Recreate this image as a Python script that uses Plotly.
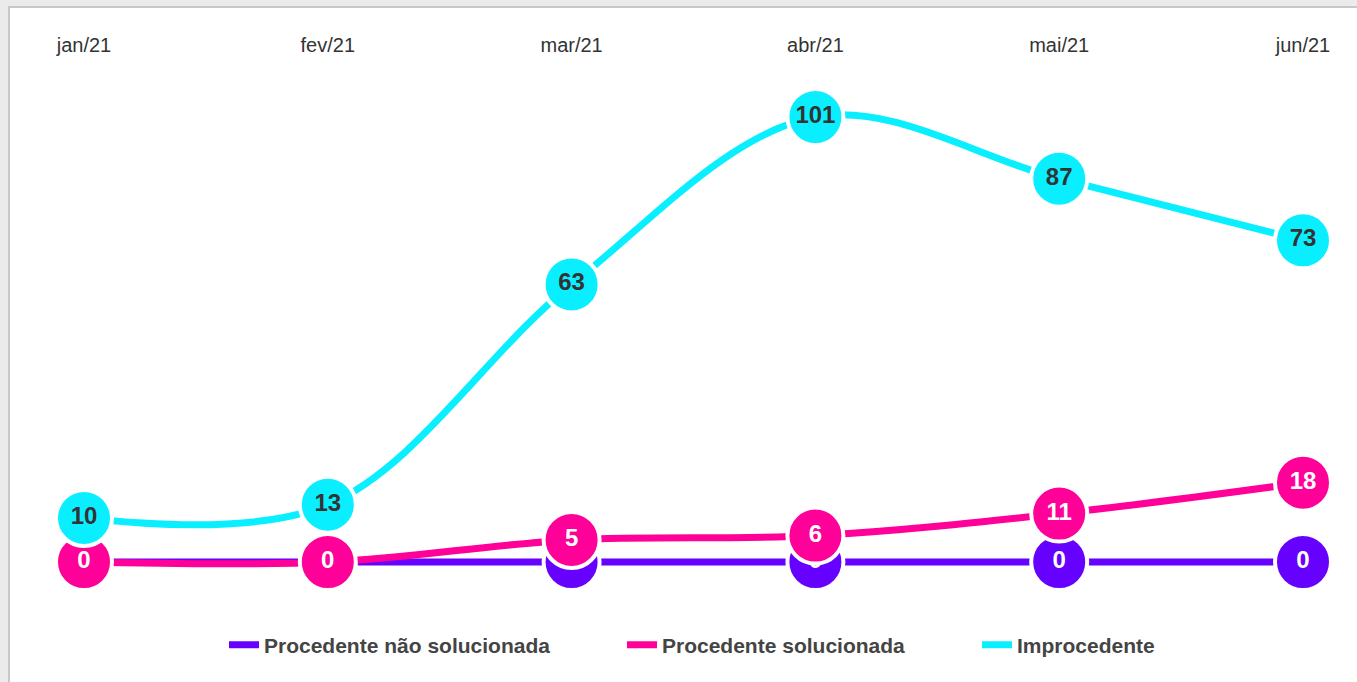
import plotly.graph_objects as go

months = ["jan/21", "fev/21", "mar/21", "abr/21", "mai/21", "jun/21"]
nao_solucionada = [0, 0, 0, 0, 0, 0]
solucionada = [0, 0, 5, 6, 11, 18]
improcedente = [10, 13, 63, 101, 87, 73]

series = [
    ("Procedente não solucionada", nao_solucionada, "#6600ff", "#ffffff"),
    ("Procedente solucionada", solucionada, "#ff0099", "#ffffff"),
    ("Improcedente", improcedente, "#0aefff", "#333333"),
]
legend_text_left = [264, 662, 1017]

W, H = 1357, 682
ml, mr, mt, mb = 60, 27, 60, 82
pw, ph = W - ml - mr, H - mt - mb

def px_x(p):
    return (p - ml) / pw

def px_y(p):
    return 1 - (p - mt) / ph

xs = list(range(len(months)))
fig = go.Figure()
for name, vals, color, tcolor in series:
    fig.add_trace(go.Scatter(
        x=xs, y=vals, mode="lines+markers+text", name=name,
        text=[str(v) for v in vals], textposition="middle center",
        textfont=dict(family="Liberation Sans, Arial", size=24, color=tcolor, weight="bold"),
        line=dict(color=color, width=7, shape="spline", smoothing=1),
        marker=dict(size=56, color=color, line=dict(color="white", width=4)),
        showlegend=False, cliponaxis=False, hoverinfo="skip",
    ))

legend_layouts = {}
for i, ((name, vals, color, tcolor), tl) in enumerate(zip(series, legend_text_left)):
    key = "legend" if i == 0 else f"legend{i + 1}"
    fig.add_trace(go.Scatter(
        x=[None], y=[None], mode="lines", name=name,
        line=dict(color=color, width=7), showlegend=True, legend=key,
    ))
    legend_layouts[key] = dict(
        orientation="h", x=px_x(tl - 40), xanchor="left", y=px_y(645), yanchor="middle",
        font=dict(size=21, color="#444444", weight="bold"),
        bgcolor="rgba(0,0,0,0)",
    )

fig.add_shape(type="rect", xref="paper", yref="paper",
              x0=px_x(9), x1=px_x(W + 20), y0=px_y(H + 20), y1=px_y(7),
              fillcolor="white", line=dict(color="#c8c8c8", width=2), layer="below")

x0 = 0 - (84 - ml) / 243.8
x1 = 5 + (ml + pw - 1303) / 243.8
ppu = 445 / 101
y0 = -(mt + ph - 562) / ppu
y1 = 101 + (117 - mt) / ppu

fig.update_layout(
    width=W, height=H,
    margin=dict(l=ml, r=mr, t=mt, b=mb),
    paper_bgcolor="#ebebeb", plot_bgcolor="rgba(0,0,0,0)",
    font=dict(family="Liberation Sans, Arial", color="#333333"),
    xaxis=dict(side="top", tickmode="array", tickvals=xs, ticktext=months,
               range=[x0, x1], showgrid=False, zeroline=False, showline=False,
               ticks="", tickfont=dict(size=20, color="#333333"), ticklabelstandoff=3),
    yaxis=dict(range=[y0, y1], visible=False, showgrid=False, zeroline=False),
    **legend_layouts,
)

fig.write_html("out.html")
